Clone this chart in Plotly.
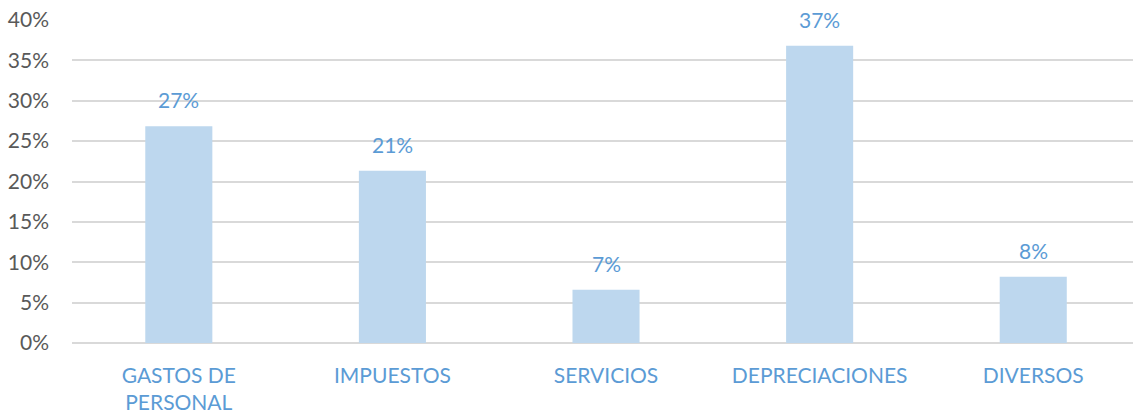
import plotly.graph_objects as go

categories = ["GASTOS DE<br>PERSONAL", "IMPUESTOS", "SERVICIOS", "DEPRECIACIONES", "DIVERSOS"]
values = [0.2685, 0.2132, 0.066, 0.368, 0.082]
labels = ["27%", "21%", "7%", "37%", "8%"]
y_ticks = [0, 0.05, 0.10, 0.15, 0.20, 0.25, 0.30, 0.35, 0.40]

FONT = "Lato"
BLUE = "#5B9BD5"

fig = go.Figure()
fig.add_trace(go.Bar(
    x=list(range(len(categories))),
    y=values,
    marker=dict(color="#BDD7EE", line=dict(width=0)),
    width=0.314,
    hoverinfo="skip",
))

for i, (v, t) in enumerate(zip(values, labels)):
    fig.add_annotation(
        x=i, y=v, text=t, showarrow=False,
        yanchor="bottom", xanchor="center", yshift=12,
        font=dict(family=FONT, size=21, color=BLUE),
    )

fig.update_layout(
    width=1133, height=414,
    margin=dict(l=72, r=0, t=20, b=71),
    paper_bgcolor="white", plot_bgcolor="white",
    showlegend=False,
    font=dict(family=FONT),
)
fig.update_xaxes(
    range=[-0.5, 4.467],
    tickmode="array",
    tickvals=list(range(len(categories))),
    ticktext=categories,
    tickfont=dict(family=FONT, size=21, color=BLUE),
    showgrid=False, zeroline=False, showline=False,
    ticks="", ticklabelstandoff=18, automargin=False,
)
fig.update_yaxes(
    range=[0, 0.40],
    tickmode="array",
    tickvals=y_ticks,
    tickformat=".0%",
    tickfont=dict(family=FONT, size=21, color="#595959"),
    showgrid=True, gridcolor="#D9D9D9", gridwidth=1.6,
    zeroline=True, zerolinecolor="#D9D9D9", zerolinewidth=1.6,
    showline=False, ticks="", ticklabelstandoff=22, automargin=False,
)

# remove the browser's default 8px body margin so the figure fills the window
fig.write_html(
    "out.html",
    config={"displayModeBar": False},
    post_script="document.body.style.margin='0';document.body.style.overflow='hidden';",
)
